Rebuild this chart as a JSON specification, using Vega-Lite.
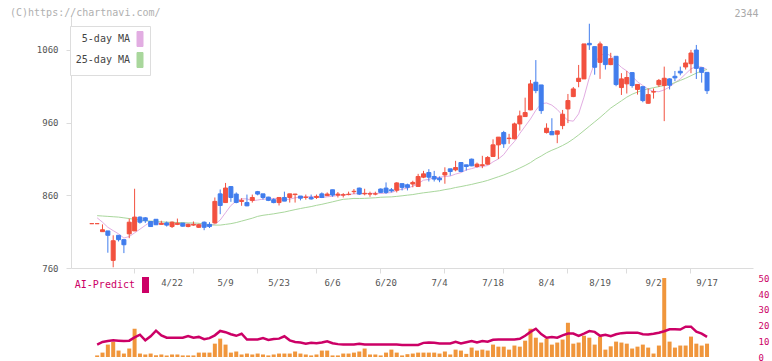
{
"$schema": "https://vega.github.io/schema/vega-lite/v6.json",
"width": 682,
"height": 343,
"autosize": {"type": "none"},
"padding": {"left": 71, "top": 15, "right": 19, "bottom": 3},
"background": "#ffffff",
"config": {
  "view": {"stroke": null},
  "font": "DejaVu Sans Mono",
  "axis": {"labelFont": "DejaVu Sans Mono", "labelFontSize": 9, "labelColor": "#555555", "domainColor": "#dcdcdc", "tickColor": "#dcdcdc", "grid": false, "titleFont": "DejaVu Sans Mono"},
  "legend": {"labelFont": "DejaVu Sans Mono", "titleFont": "DejaVu Sans Mono"}
},
"title": {"text": "(C)https://chartnavi.com/", "anchor": "start", "frame": "group", "dx": -61, "dy": 10, "offset": 0, "fontSize": 10, "font": "DejaVu Sans Mono", "fontWeight": "normal", "color": "#b0b0b0"},
"data": {"values": [
{"d":"4/1","o":821,"h":821,"l":821,"c":821,"v":0,"ai":null,"m5":null,"m25":null},
{"d":"4/2","o":821,"h":821,"l":821,"c":821,"v":1.0,"ai":7.9,"m5":829,"m25":832},
{"d":"4/3","o":810,"h":820,"l":810,"c":812.6,"v":2.8,"ai":9.6,"m5":823,"m25":831.5},
{"d":"4/4","o":811,"h":811,"l":781,"c":805,"v":7.9,"ai":10.2,"m5":816,"m25":831},
{"d":"4/7","o":770.5,"h":805,"l":761,"c":797.5,"v":9.6,"ai":10.6,"m5":811.4,"m25":830.5},
{"d":"4/8","o":805,"h":805,"l":796.5,"c":799,"v":4.1,"ai":10.4,"m5":807,"m25":830},
{"d":"4/9","o":799,"h":799,"l":780.5,"c":792,"v":2.2,"ai":10.2,"m5":801.2,"m25":829},
{"d":"4/10","o":807,"h":828,"l":801,"c":823,"v":5.4,"ai":10.4,"m5":803.3,"m25":828},
{"d":"4/11","o":811,"h":869,"l":811,"c":830,"v":18.0,"ai":12.5,"m5":808.3,"m25":827},
{"d":"4/14","o":830,"h":831,"l":821,"c":823,"v":2.2,"ai":14.2,"m5":813.4,"m25":826},
{"d":"4/15","o":829,"h":830,"l":822,"c":825,"v":1.6,"ai":10.6,"m5":818.6,"m25":825},
{"d":"4/16","o":824,"h":824,"l":817,"c":817,"v":2.2,"ai":13.2,"m5":823.6,"m25":824.5},
{"d":"4/17","o":827,"h":827,"l":819,"c":819.5,"v":1.1,"ai":16.8,"m5":822.9,"m25":824},
{"d":"4/18","o":820,"h":825,"l":820,"c":821.5,"v":1.6,"ai":13.8,"m5":821.2,"m25":823.5},
{"d":"4/21","o":822,"h":824,"l":817,"c":819,"v":0.95,"ai":12.3,"m5":820.4,"m25":823},
{"d":"4/22","o":817,"h":824,"l":815,"c":823,"v":1.6,"ai":12.3,"m5":820,"m25":823},
{"d":"4/23","o":820,"h":828,"l":819,"c":821.5,"v":1.6,"ai":12.3,"m5":820.9,"m25":822.5},
{"d":"4/24","o":821.8,"h":822,"l":817,"c":817.5,"v":1.0,"ai":12.3,"m5":820.5,"m25":822.5},
{"d":"4/25","o":817,"h":821,"l":816,"c":820,"v":1.0,"ai":13.4,"m5":820.6,"m25":822},
{"d":"4/28","o":819,"h":824,"l":818,"c":820,"v":1.0,"ai":12.3,"m5":820.4,"m25":822},
{"d":"4/30","o":816,"h":821,"l":815,"c":819.5,"v":2.8,"ai":12.8,"m5":819.7,"m25":821.5},
{"d":"5/1","o":823,"h":824,"l":812,"c":816,"v":2.8,"ai":11.3,"m5":818.6,"m25":820.5},
{"d":"5/2","o":820,"h":823,"l":815,"c":817,"v":2.8,"ai":12.0,"m5":818.5,"m25":819.5},
{"d":"5/7","o":822,"h":857,"l":821,"c":851.6,"v":8.5,"ai":13.8,"m5":820,"m25":819},
{"d":"5/8","o":862,"h":868,"l":834,"c":846,"v":11.7,"ai":16.6,"m5":826,"m25":819},
{"d":"5/9","o":850,"h":877,"l":850,"c":870,"v":7.9,"ai":15.8,"m5":836,"m25":820},
{"d":"5/12","o":872,"h":872,"l":851,"c":857,"v":2.8,"ai":14.5,"m5":846,"m25":821},
{"d":"5/13","o":861.7,"h":864,"l":849,"c":850.2,"v":3.5,"ai":13.5,"m5":852,"m25":822.5},
{"d":"5/14","o":851.5,"h":856,"l":845.6,"c":853,"v":1.6,"ai":14.8,"m5":855.2,"m25":824.5},
{"d":"5/15","o":850,"h":861,"l":845,"c":845.5,"v":2.2,"ai":11.1,"m5":855.1,"m25":826.5},
{"d":"5/16","o":853,"h":861,"l":850,"c":857,"v":1.6,"ai":11.1,"m5":852.5,"m25":828.5},
{"d":"5/19","o":865,"h":866,"l":860,"c":861.7,"v":2.2,"ai":11.1,"m5":853.5,"m25":831},
{"d":"5/20","o":862,"h":862,"l":854,"c":857,"v":1.6,"ai":12.0,"m5":854.8,"m25":832.5},
{"d":"5/21","o":857.5,"h":858,"l":852,"c":853,"v":1.0,"ai":10.8,"m5":854.8,"m25":833.5},
{"d":"5/22","o":854,"h":856,"l":849,"c":850,"v":1.6,"ai":11.5,"m5":855.7,"m25":834.5},
{"d":"5/23","o":850,"h":857,"l":846,"c":857,"v":2.2,"ai":11.7,"m5":855.7,"m25":835.8},
{"d":"5/26","o":857,"h":865,"l":852,"c":852,"v":2.2,"ai":13.2,"m5":853.8,"m25":837},
{"d":"5/27","o":857,"h":862,"l":850,"c":862,"v":2.2,"ai":10.6,"m5":854.8,"m25":838.7},
{"d":"5/28","o":861,"h":862,"l":850,"c":861.7,"v":3.5,"ai":9.6,"m5":856.5,"m25":840.3},
{"d":"5/29","o":859,"h":859,"l":853,"c":856,"v":2.2,"ai":9.2,"m5":857.7,"m25":841.8},
{"d":"5/30","o":857,"h":861,"l":854,"c":857.5,"v":1.6,"ai":8.5,"m5":857.8,"m25":843.2},
{"d":"6/2","o":857,"h":861,"l":854,"c":855,"v":1.0,"ai":9.0,"m5":858.4,"m25":844.5},
{"d":"6/3","o":857,"h":861,"l":855,"c":858.5,"v":1.6,"ai":8.7,"m5":857.7,"m25":846.2},
{"d":"6/4","o":862,"h":864,"l":857,"c":857,"v":4.1,"ai":9.2,"m5":856.8,"m25":847.6},
{"d":"6/5","o":859.5,"h":864,"l":859,"c":861.7,"v":4.1,"ai":10.0,"m5":857.9,"m25":849.3},
{"d":"6/6","o":867.6,"h":867.6,"l":858,"c":860.3,"v":1.0,"ai":8.8,"m5":858.6,"m25":851},
{"d":"6/9","o":860.3,"h":864.5,"l":857,"c":861.7,"v":1.0,"ai":8.2,"m5":859.8,"m25":852.8},
{"d":"6/10","o":860.3,"h":863,"l":857,"c":860.8,"v":2.2,"ai":7.9,"m5":860.3,"m25":854.5},
{"d":"6/11","o":861,"h":865,"l":860,"c":861.5,"v":2.2,"ai":7.9,"m5":861.2,"m25":855},
{"d":"6/12","o":865,"h":868.6,"l":861.7,"c":865.5,"v":2.8,"ai":7.9,"m5":862,"m25":855.7},
{"d":"6/13","o":869.9,"h":870.5,"l":860.5,"c":861.7,"v":3.5,"ai":8.5,"m5":862.2,"m25":855.6},
{"d":"6/16","o":862,"h":869,"l":860,"c":862.7,"v":5.4,"ai":7.9,"m5":862.4,"m25":855.8},
{"d":"6/17","o":861.7,"h":865,"l":858,"c":862.2,"v":1.6,"ai":7.9,"m5":862.7,"m25":856.2},
{"d":"6/18","o":861.7,"h":865,"l":860,"c":862,"v":1.6,"ai":7.9,"m5":862.8,"m25":856.6},
{"d":"6/19","o":868.6,"h":869.5,"l":863,"c":864,"v":1.0,"ai":7.9,"m5":862.5,"m25":857.3},
{"d":"6/20","o":869.9,"h":877.7,"l":862,"c":864,"v":2.8,"ai":7.9,"m5":863,"m25":857.6},
{"d":"6/23","o":867.6,"h":870,"l":864,"c":866,"v":4.7,"ai":7.9,"m5":863.8,"m25":857.8},
{"d":"6/24","o":867,"h":878,"l":864,"c":877,"v":2.8,"ai":7.9,"m5":866.6,"m25":858.5},
{"d":"6/25","o":876,"h":876,"l":866.7,"c":870.9,"v":1.0,"ai":7.7,"m5":868.4,"m25":859.3},
{"d":"6/26","o":874.5,"h":876,"l":866.7,"c":870.9,"v":1.8,"ai":7.7,"m5":869.8,"m25":860.2},
{"d":"6/27","o":875.5,"h":880,"l":871,"c":877.7,"v":2.2,"ai":7.7,"m5":872.5,"m25":861},
{"d":"6/30","o":872.2,"h":889.5,"l":872,"c":885.9,"v":2.8,"ai":7.7,"m5":876.1,"m25":862.3},
{"d":"7/1","o":884.9,"h":893.6,"l":883.6,"c":889.5,"v":2.8,"ai":9.0,"m5":880.8,"m25":863.4},
{"d":"7/2","o":891.3,"h":896,"l":879,"c":884.9,"v":2.8,"ai":9.2,"m5":881.8,"m25":864.3},
{"d":"7/3","o":885.9,"h":893.6,"l":879,"c":882.3,"v":2.8,"ai":9.0,"m5":884.1,"m25":865.3},
{"d":"7/4","o":883.6,"h":885.9,"l":878,"c":881.3,"v":2.2,"ai":8.6,"m5":884.8,"m25":866.3},
{"d":"7/7","o":888,"h":898.5,"l":875.9,"c":891.3,"v":3.5,"ai":8.6,"m5":885.9,"m25":867.8},
{"d":"7/8","o":896.4,"h":896.4,"l":887,"c":892.7,"v":1.6,"ai":8.6,"m5":886.5,"m25":869},
{"d":"7/9","o":895,"h":907.4,"l":893,"c":898.2,"v":4.7,"ai":9.7,"m5":889.2,"m25":870.7},
{"d":"7/10","o":905.1,"h":905.1,"l":892,"c":892.7,"v":4.1,"ai":8.6,"m5":891.2,"m25":872},
{"d":"7/11","o":901.9,"h":902,"l":894,"c":899.6,"v":2.0,"ai":9.4,"m5":894.9,"m25":873.5},
{"d":"7/14","o":909.7,"h":910.5,"l":900,"c":900.5,"v":6.0,"ai":10.2,"m5":896.7,"m25":875},
{"d":"7/15","o":899.6,"h":905,"l":898,"c":902.8,"v":4.1,"ai":9.2,"m5":898.8,"m25":876.8},
{"d":"7/16","o":901,"h":914.3,"l":897.3,"c":902,"v":4.7,"ai":10.2,"m5":899.5,"m25":878.5},
{"d":"7/17","o":902.8,"h":914,"l":902,"c":912,"v":4.1,"ai":9.7,"m5":901,"m25":880.5},
{"d":"7/18","o":913.4,"h":937,"l":913,"c":929.4,"v":7.9,"ai":11.0,"m5":906,"m25":883},
{"d":"7/22","o":929.4,"h":940,"l":910,"c":940,"v":6.6,"ai":11.2,"m5":910,"m25":885.5},
{"d":"7/23","o":946.3,"h":948.6,"l":925.2,"c":930.8,"v":6.6,"ai":11.2,"m5":916,"m25":888},
{"d":"7/24","o":938,"h":944.5,"l":930.8,"c":938.6,"v":4.7,"ai":11.2,"m5":926,"m25":891},
{"d":"7/25","o":937.7,"h":960,"l":937,"c":958.2,"v":7.3,"ai":11.2,"m5":934,"m25":894},
{"d":"7/28","o":958.2,"h":976.5,"l":949,"c":969.2,"v":6.6,"ai":11.6,"m5":945,"m25":897.5},
{"d":"7/29","o":968.3,"h":994.3,"l":968,"c":973.8,"v":10.4,"ai":13.5,"m5":955,"m25":901},
{"d":"7/30","o":977.5,"h":1018.7,"l":977,"c":1013.2,"v":18.0,"ai":16.0,"m5":965,"m25":905},
{"d":"7/31","o":1015.5,"h":1046,"l":1000.4,"c":1004,"v":12.3,"ai":18.0,"m5":977,"m25":910},
{"d":"8/1","o":1011.8,"h":1011.8,"l":972,"c":976.5,"v":9.2,"ai":14.6,"m5":986,"m25":914},
{"d":"8/4","o":946.3,"h":959,"l":945,"c":952.3,"v":11.7,"ai":12.3,"m5":987,"m25":918.5},
{"d":"8/5","o":947.7,"h":966,"l":943,"c":943.2,"v":7.9,"ai":12.8,"m5":984,"m25":922},
{"d":"8/6","o":944,"h":948.6,"l":931.7,"c":948.6,"v":9.2,"ai":12.3,"m5":978,"m25":925},
{"d":"8/7","o":955.9,"h":977.4,"l":950.9,"c":971.5,"v":11.1,"ai":13.8,"m5":970,"m25":928.5},
{"d":"8/8","o":978.8,"h":999.4,"l":959.3,"c":990.3,"v":21.8,"ai":14.9,"m5":963,"m25":932.5},
{"d":"8/12","o":995.8,"h":1009,"l":995,"c":1006.3,"v":8.5,"ai":14.9,"m5":962,"m25":937.5},
{"d":"8/13","o":1016.5,"h":1039.3,"l":1008.6,"c":1021,"v":9.2,"ai":13.4,"m5":972,"m25":943},
{"d":"8/14","o":1020.1,"h":1068.2,"l":1020,"c":1068.2,"v":13.6,"ai":14.9,"m5":995,"m25":949},
{"d":"8/15","o":1069,"h":1096,"l":1060,"c":1067,"v":12.3,"ai":16.5,"m5":1022,"m25":955},
{"d":"8/18","o":1064.5,"h":1064.5,"l":1025.9,"c":1036.1,"v":7.9,"ai":16.0,"m5":1042,"m25":961},
{"d":"8/19","o":1042.9,"h":1071.4,"l":1020.1,"c":1068.2,"v":13.0,"ai":13.5,"m5":1052,"m25":967},
{"d":"8/20","o":1064.5,"h":1064.5,"l":1033,"c":1039.8,"v":4.7,"ai":14.2,"m5":1055.5,"m25":973.5},
{"d":"8/21","o":1039.8,"h":1056,"l":1039,"c":1048,"v":6.8,"ai":13.2,"m5":1052,"m25":980},
{"d":"8/22","o":1051.2,"h":1051.2,"l":1010,"c":1012.3,"v":9.8,"ai":14.5,"m5":1043,"m25":985},
{"d":"8/25","o":1008.2,"h":1028,"l":998,"c":1020.1,"v":9.2,"ai":15.2,"m5":1036,"m25":990},
{"d":"8/26","o":1013.3,"h":1031,"l":1000,"c":1022,"v":8.5,"ai":15.5,"m5":1031,"m25":995},
{"d":"8/27","o":1028.8,"h":1028.8,"l":1008,"c":1011,"v":5.4,"ai":15.5,"m5":1024,"m25":999},
{"d":"8/28","o":1005.6,"h":1012.5,"l":998.5,"c":1012.5,"v":6.6,"ai":15.5,"m5":1016,"m25":1002},
{"d":"8/29","o":1009.4,"h":1009.4,"l":988,"c":990.3,"v":7.9,"ai":14.5,"m5":1011,"m25":1004.5},
{"d":"9/1","o":986.6,"h":1007,"l":986,"c":998.5,"v":6.0,"ai":14.3,"m5":1006,"m25":1006.5},
{"d":"9/2","o":1002,"h":1007,"l":993,"c":1002.6,"v":2.2,"ai":14.8,"m5":1003,"m25":1008},
{"d":"9/3","o":1012,"h":1020,"l":1009,"c":1018,"v":7.3,"ai":15.5,"m5":1002.5,"m25":1009.5},
{"d":"9/4","o":1011,"h":1037,"l":962,"c":1021,"v":50.3,"ai":16.4,"m5":1005,"m25":1011},
{"d":"9/5","o":1020.1,"h":1021,"l":1005.6,"c":1011.4,"v":9.8,"ai":17.7,"m5":1009,"m25":1012.5},
{"d":"9/8","o":1023.7,"h":1031,"l":1017,"c":1021.5,"v":6.0,"ai":17.7,"m5":1015,"m25":1015},
{"d":"9/9","o":1030.6,"h":1037,"l":1025,"c":1028.3,"v":7.3,"ai":17.5,"m5":1020,"m25":1018},
{"d":"9/10","o":1036.5,"h":1047,"l":1033,"c":1042,"v":7.3,"ai":19.3,"m5":1027,"m25":1021},
{"d":"9/11","o":1041,"h":1060,"l":1028,"c":1055.7,"v":13.0,"ai":19.3,"m5":1034,"m25":1024.5},
{"d":"9/12","o":1059.8,"h":1066.8,"l":1020,"c":1034.6,"v":8.5,"ai":16.1,"m5":1037,"m25":1028},
{"d":"9/16","o":1035.5,"h":1035.5,"l":1015,"c":1029.1,"v":7.3,"ai":14.9,"m5":1036.5,"m25":1031},
{"d":"9/17","o":1029.1,"h":1029.1,"l":999.3,"c":1003.9,"v":8.5,"ai":12.8,"m5":1033,"m25":1033}
]},
"layer": [
  {
    "encoding": {
      "x": {"field": "d", "type": "ordinal", "sort": null,
        "scale": {"type": "band", "paddingInner": 0, "paddingOuter": 0.24, "align": 0.808, "round": false,
          "domain": ["_a","_b","_c","4/1","4/2","4/3","4/4","4/7","4/8","4/9","4/10","4/11","4/14","4/15","4/16","4/17","4/18","4/21","4/22","4/23","4/24","4/25","4/28","4/30","5/1","5/2","5/7","5/8","5/9","5/12","5/13","5/14","5/15","5/16","5/19","5/20","5/21","5/22","5/23","5/26","5/27","5/28","5/29","5/30","6/2","6/3","6/4","6/5","6/6","6/9","6/10","6/11","6/12","6/13","6/16","6/17","6/18","6/19","6/20","6/23","6/24","6/25","6/26","6/27","6/30","7/1","7/2","7/3","7/4","7/7","7/8","7/9","7/10","7/11","7/14","7/15","7/16","7/17","7/18","7/22","7/23","7/24","7/25","7/28","7/29","7/30","7/31","8/1","8/4","8/5","8/6","8/7","8/8","8/12","8/13","8/14","8/15","8/18","8/19","8/20","8/21","8/22","8/25","8/26","8/27","8/28","8/29","9/1","9/2","9/3","9/4","9/5","9/8","9/9","9/10","9/11","9/12","9/16","9/17","_d","_e","_f","_g","_h","_i","_j","_k"]},
        "axis": {"orient": "bottom", "offset": -90, "title": null, "labels": false, "domain": true, "domainColor": "#dcdcdc", "ticks": true, "tickSize": 5, "tickColor": "#dcdcdc", "bandPosition": 0.5,
          "values": ["4/11","4/28","5/19","6/3","6/19","7/7","7/23","8/8","8/26","9/11"]}}
    },
    "layer": [
      {"mark": {"type": "line", "strokeWidth": 1},
       "encoding": {
         "y": {"field": "m5", "type": "quantitative", "title": null, "scale": {"domain": [760, 1108], "range": [253, 0], "zero": false, "nice": false},
               "axis": {"orient": "left", "values": [760, 860, 960, 1060], "format": "d", "title": null, "tickSize": 5, "labelPadding": 8, "domainColor": "#dcdcdc", "tickColor": "#dcdcdc"}},
         "color": {"datum": "5-day MA", "type": "nominal",
           "scale": {"domain": ["5-day MA", "25-day MA"], "range": ["#e2ade2", "#a9d79c"]},
           "legend": {"orient": "none", "legendX": -1, "legendY": 11, "padding": 5, "title": null, "fillColor": "#ffffff", "strokeColor": "#dddddd",
             "symbolType": "M-0.4,-1L0.4,-1L0.4,1L-0.4,1Z", "symbolSize": 225, "symbolStrokeColor": "#555555", "symbolStrokeWidth": 1,
             "labelAlign": "right", "labelOffset": -18, "symbolOffset": 57, "labelColor": "#444444", "labelFontSize": 10, "labelFont": "DejaVu Sans Mono", "rowPadding": 1,
             "encode": {"symbols": {"update": {"fill": {"scale": "color", "field": "value"}, "stroke": {"value": "#555555"}, "strokeWidth": {"value": 1}, "opacity": {"value": 1}}}}}
         }
       }},
      {"mark": {"type": "line", "strokeWidth": 1},
       "encoding": {
         "y": {"field": "m25", "type": "quantitative", "title": null, "scale": {"domain": [760, 1108], "range": [253, 0], "zero": false, "nice": false}},
         "color": {"datum": "25-day MA", "type": "nominal", "scale": {"domain": ["5-day MA", "25-day MA"], "range": ["#e2ade2", "#a9d79c"]}}
       }},
      {"mark": {"type": "rule", "strokeWidth": 1},
       "encoding": {
         "y": {"field": "l", "type": "quantitative", "title": null, "scale": {"domain": [760, 1108], "range": [253, 0], "zero": false, "nice": false}},
         "y2": {"field": "h"},
         "color": {"condition": {"test": "datum.c >= datum.o", "value": "#f2513f"}, "value": "#417ded"}
       }},
      {"mark": {"type": "bar", "size": 4, "strokeWidth": 1},
       "encoding": {
         "y": {"field": "o", "type": "quantitative", "title": null, "scale": {"domain": [760, 1108], "range": [253, 0], "zero": false, "nice": false}},
         "y2": {"field": "c"},
         "fill": {"condition": {"test": "datum.c >= datum.o", "value": "#f2513f"}, "value": "#417ded"},
         "stroke": {"condition": {"test": "datum.c >= datum.o", "value": "#f2513f"}, "value": "#417ded"}
       }}
    ]
  },
  {
    "encoding": {
      "x": {"field": "d", "type": "ordinal", "sort": null,
        "scale": {"type": "band", "paddingInner": 0, "paddingOuter": 0.24, "align": 0.808, "round": false},
        "axis": {"orient": "bottom", "offset": -90, "title": null, "labels": true, "domain": false, "ticks": false, "labelPadding": 10, "labelFontSize": 9, "labelColor": "#555555", "labelAngle": 0, "labelOverlap": false, "bandPosition": 0.5,
          "values": ["4/22","5/9","5/23","6/6","6/20","7/4","7/18","8/4","8/19","9/2","9/17"]}}
    },
    "layer": [
      {"mark": {"type": "bar", "size": 4, "color": "#f0963c"},
       "encoding": {
         "y": {"field": "v", "type": "quantitative", "scale": {"domain": [0, 50], "range": [342, 263.5], "zero": false, "nice": false},
               "axis": {"orient": "right", "values": [0, 10, 20, 30, 40, 50], "domain": false, "ticks": false, "labelColor": "#cc0066", "labelPadding": 5, "labelFontSize": 9,
                 "title": "2344", "titleAngle": 0, "titleX": -19, "titleY": 1, "titleAlign": "left", "titleBaseline": "alphabetic", "titleColor": "#aaaaaa", "titleFontSize": 10, "titleFontWeight": "normal", "titleFont": "DejaVu Sans Mono"}}
       }},
      {"mark": {"type": "line", "strokeWidth": 2.5},
       "encoding": {
         "y": {"field": "ai", "type": "quantitative", "scale": {"domain": [0, 50], "range": [342, 263.5], "zero": false, "nice": false}},
         "stroke": {"datum": "AI-Predict", "type": "nominal", "scale": {"domain": ["AI-Predict"], "range": ["#cc0066"]},
           "legend": {"orient": "none", "legendX": -1, "legendY": 257, "padding": 5, "title": null,
             "symbolType": "M-0.4375,-1L0.4375,-1L0.4375,1L-0.4375,1Z", "symbolSize": 256, "symbolFillColor": "#cc0066", "symbolStrokeWidth": 0,
             "labelAlign": "right", "labelOffset": -18.5, "symbolOffset": 62.5, "labelColor": "#cc0066", "labelFontSize": 10, "labelFont": "DejaVu Sans Mono",
             "encode": {"symbols": {"update": {"fill": {"value": "#cc0066"}, "stroke": {"value": "#cc0066"}, "strokeWidth": {"value": 0}, "opacity": {"value": 1}}}}}
         }
       }}
    ]
  }
],
"resolve": {"scale": {"y": "independent"}, "axis": {"x": "independent", "y": "independent"}}
}
